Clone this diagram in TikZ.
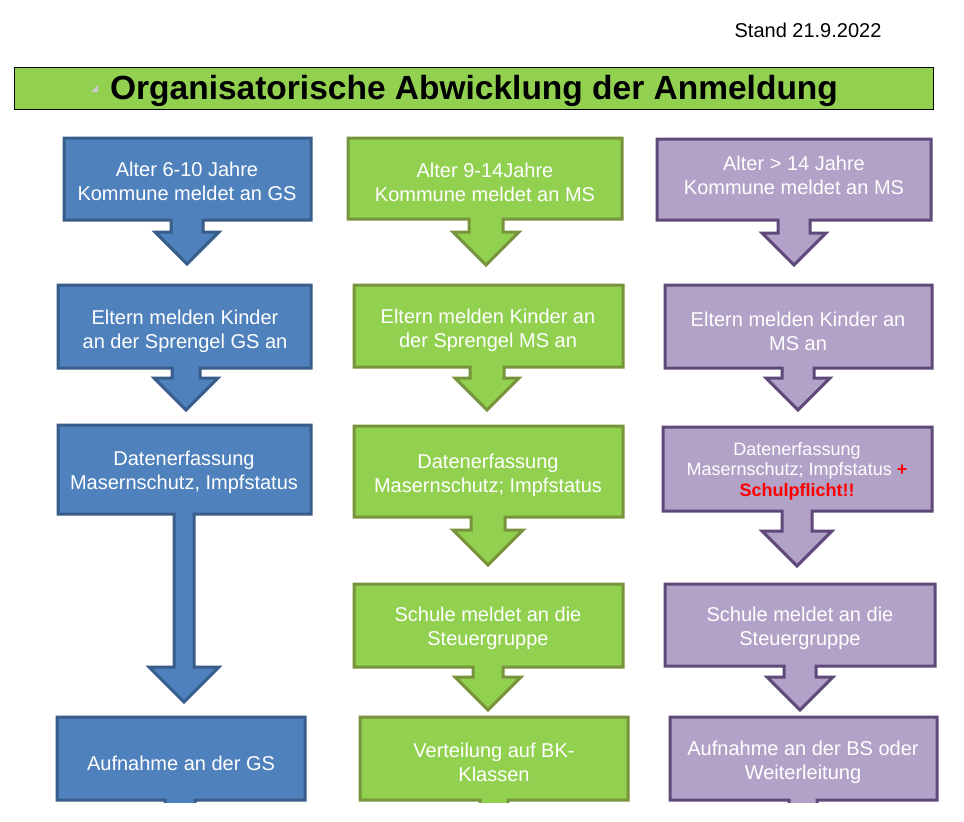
\documentclass[tikz,border=0pt]{standalone}
\usepackage{fontspec}
\setmainfont{Liberation Sans}
\definecolor{bfill}{HTML}{4F81BD}
\definecolor{bline}{HTML}{385D8A}
\definecolor{gfill}{HTML}{92D050}
\definecolor{gline}{HTML}{77933C}
\definecolor{pfill}{HTML}{B2A2C7}
\definecolor{pline}{HTML}{5F497A}
\definecolor{redtxt}{HTML}{FF0000}
\newcommand\callout[9]{\draw[#1] (#2,#3) -- (#4,#3) -- (#4,#5) -- ({#6+#7},#5) -- ({#6+#7},#9) -- ({#6+#8},#9) -- (#6,{#9+#8}) -- ({#6-#8},#9) -- ({#6-#7},#9) -- ({#6-#7},#5) -- (#2,#5) -- cycle;}
\tikzset{
  bluebox/.style={fill=bfill,draw=bline,line width=3pt},
  greenbox/.style={fill=gfill,draw=gline,line width=3pt},
  purplebox/.style={fill=pfill,draw=pline,line width=3pt},
  txt/.style={text=white,align=center,inner sep=0pt,font=\fontsize{20}{24}\selectfont},
  smalltxt/.style={text=white,align=center,inner sep=0pt,font=\fontsize{18}{20.5}\selectfont}
}
\begin{document}
\begin{tikzpicture}[x=1pt,y=-1pt]
\useasboundingbox (0,0) rectangle (964,822);
\fill[white] (0,0) rectangle (964,822);
% header
\node[inner sep=0pt,font=\fontsize{20}{24}\selectfont] (stand) at (808,30) {Stand 21.9.2022};
\draw[fill=gfill,draw=black,line width=1pt] (14,67) rectangle (933,109);
\fill[gray!40] (91,92) -- (98,92) -- (98,85) -- cycle;
\node[inner sep=0pt,font=\fontsize{33.5}{38}\selectfont\bfseries] (title) at (474,91) {Organisatorische Abwicklung der Anmeldung};
% blue column
\callout{bluebox}{64}{138}{311}{220}{187}{16}{32}{232}
\callout{bluebox}{58}{285}{311}{368}{186}{14}{32}{378}
\callout{bluebox}{58}{425}{311}{514}{184}{10}{35}{667}
% green column
\callout{greenbox}{348}{138}{622}{219}{486}{17}{33}{232}
\callout{greenbox}{354}{285}{623}{367}{487}{17}{32}{378}
\callout{greenbox}{354}{426}{623}{517}{488}{17}{35}{530}
\callout{greenbox}{354}{584}{623}{667}{488}{15}{33}{677}
% purple column
\callout{purplebox}{657}{139}{931}{220}{794}{16}{32}{233}
\callout{purplebox}{665}{285}{932}{368}{798}{16}{32}{378}
\callout{purplebox}{663}{427}{932}{511}{797}{15}{35}{531}
\callout{purplebox}{665}{584}{935}{666}{800}{16}{33}{677}
% bottom row, cut at the lower edge
\begin{scope}
\clip (0,0) rectangle (964,802);
\callout{bluebox}{57}{717}{305}{800}{180}{15}{15}{840}
\callout{greenbox}{360}{717}{628}{800}{494}{14}{14}{840}
\callout{purplebox}{670}{717}{937}{800}{803}{14}{14}{840}
\end{scope}
% texts
\node[txt] (b1) at (187,181) {Alter 6-10 Jahre\\Kommune meldet an GS};
\node[txt] (b2) at (185,331) {Eltern melden Kinder\\an der Sprengel GS an};
\node[txt] (b3) at (184,472) {Datenerfassung\\Masernschutz, Impfstatus};
\node[txt] (b4) at (181,763) {Aufnahme an der GS};
\node[txt] (g1) at (485,182) {Alter 9-14Jahre\\Kommune meldet an MS};
\node[txt] (g2) at (488,330) {Eltern melden Kinder an\\der Sprengel MS an};
\node[txt] (g3) at (488,475) {Datenerfassung\\Masernschutz; Impfstatus};
\node[txt] (g4) at (488,628) {Schule meldet an die\\Steuergruppe};
\node[txt] (g5) at (494,762) {Verteilung auf BK-\\Klassen};
\node[txt] (p1) at (794,175) {Alter > 14 Jahre\\Kommune meldet an MS};
\node[txt] (p2) at (798,331) {Eltern melden Kinder an\\MS an};
\node[smalltxt] (p3) at (797,471) {Datenerfassung\\Masernschutz; Impfstatus {\bfseries\color{redtxt}+}\\{\bfseries\color{redtxt}Schulpflicht!!}};
\node[txt] (p4) at (800,628) {Schule meldet an die\\Steuergruppe};
\node[txt] (p5) at (803,762) {Aufnahme an der BS oder\\Weiterleitung};
\end{tikzpicture}
\end{document}
